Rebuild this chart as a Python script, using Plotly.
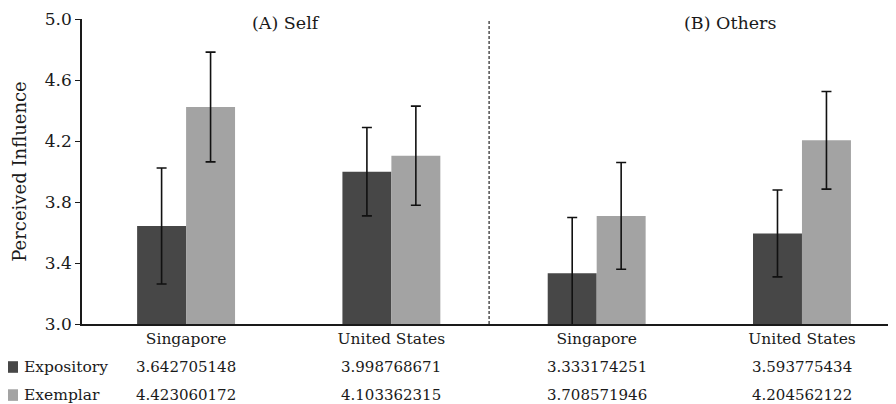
import plotly.graph_objects as go

categories = ["Singapore", "United States", "Singapore", "United States"]
expository = [3.642705148, 3.998768671, 3.333174251, 3.593775434]
exemplar = [4.423060172, 4.103362315, 3.708571946, 4.204562122]
err_expository = [0.38, 0.29, 0.365, 0.285]
err_exemplar = [0.36, 0.325, 0.35, 0.32]
series_names = ["Expository", "Exemplar"]
panel_titles = ["(A) Self", "(B) Others"]
ytick_vals = [3.0, 3.4, 3.8, 4.2, 4.6, 5.0]

FONT = "DejaVu Serif"
DARK = "#474747"
LIGHT = "#a3a3a3"
TXT = "#1a1a1a"

xpos = list(range(len(categories)))

fig = go.Figure()
fig.add_trace(go.Bar(
    x=xpos, y=expository, name=series_names[0], marker=dict(color=DARK, line=dict(width=0)),
    error_y=dict(type="data", array=err_expository, visible=True, color="#111111", thickness=1.6, width=5),
))
fig.add_trace(go.Bar(
    x=xpos, y=exemplar, name=series_names[1], marker=dict(color=LIGHT, line=dict(width=0)),
    error_y=dict(type="data", array=err_exemplar, visible=True, color="#111111", thickness=1.6, width=5),
))

# the page has an 8px body margin: a 888x396 figure puts the plot area at 82..896 / 19..324
fig.update_layout(
    width=888, height=396,
    margin=dict(l=74, r=0, t=11, b=80),
    paper_bgcolor="white", plot_bgcolor="white",
    barmode="group", bargap=0.523, bargroupgap=0,
    showlegend=False,
    font=dict(family=FONT, size=15.5, color=TXT),
)
fig.update_xaxes(
    range=[-0.507, 3.458], tickvals=xpos, ticktext=categories,
    showline=True, linecolor=TXT, linewidth=1.5, ticks="", showgrid=False, zeroline=False,
    tickfont=dict(family=FONT, size=15.5, color=TXT),
)
fig.update_yaxes(
    range=[3.0, 5.0], tickvals=ytick_vals, tickformat=".1f",
    showline=True, linecolor=TXT, linewidth=1.5, ticks="outside", ticklen=5,
    tickcolor=TXT, tickwidth=1.2, showgrid=False, zeroline=False,
    tickfont=dict(family=FONT, size=17, color=TXT),
    title=dict(text="Perceived Influence", font=dict(family=FONT, size=18, color=TXT), standoff=14),
)

# dashed divider between the two panels
fig.add_shape(type="line", xref="x", yref="paper", x0=1.476, x1=1.476, y0=0, y1=1,
              line=dict(color="#333333", width=1.3, dash="3px,2px"))

for xt, t in zip([0.487, 2.65], panel_titles):
    fig.add_annotation(x=xt, y=0.987, xref="x", yref="paper", text=t, showarrow=False,
                       xanchor="center", yanchor="middle", font=dict(family=FONT, size=17.5, color=TXT))

# data table beneath the axis
rows = [(series_names[0], expository, DARK, -0.141), (series_names[1], exemplar, LIGHT, -0.233)]
for name, vals, col, yp in rows:
    fig.add_shape(type="rect", xref="paper", yref="paper",
                  x0=-0.0921, x1=-0.0786, y0=yp - 0.019, y1=yp + 0.019,
                  fillcolor=col, line=dict(width=0))
    fig.add_annotation(x=-0.0737, y=yp, xref="paper", yref="paper", text=name, showarrow=False,
                       xanchor="left", yanchor="middle", font=dict(family=FONT, size=15.5, color=TXT))
    for xi, v in zip(xpos, vals):
        fig.add_annotation(x=xi, y=yp, xref="x", yref="paper", text=f"{v:.9f}", showarrow=False,
                           xanchor="center", yanchor="middle", font=dict(family=FONT, size=15, color=TXT))

fig.write_html("out.html")
